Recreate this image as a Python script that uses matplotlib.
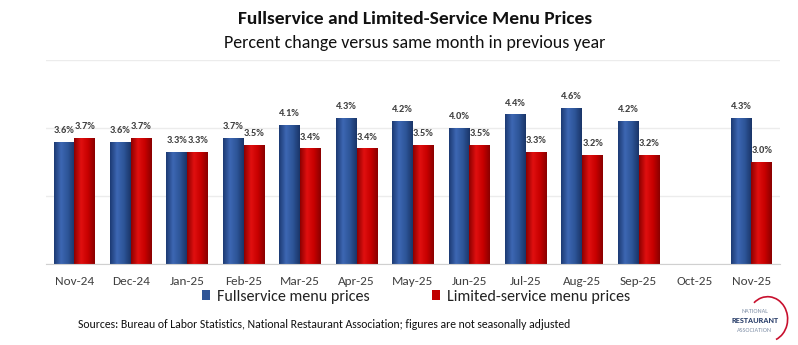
import numpy as np
import matplotlib
matplotlib.use('Agg')
import matplotlib.pyplot as plt
from matplotlib import font_manager
from matplotlib.patches import Arc
from matplotlib.colors import LinearSegmentedColormap

months = ['Nov-24', 'Dec-24', 'Jan-25', 'Feb-25', 'Mar-25', 'Apr-25', 'May-25',
          'Jun-25', 'Jul-25', 'Aug-25', 'Sep-25', 'Oct-25', 'Nov-25']
fullservice = [3.6, 3.6, 3.3, 3.7, 4.1, 4.3, 4.2, 4.0, 4.4, 4.6, 4.2, np.nan, 4.3]
limited = [3.7, 3.7, 3.3, 3.5, 3.4, 3.4, 3.5, 3.5, 3.3, 3.2, 3.2, np.nan, 3.0]

# Calibri-like font if one is there
available = set(f.name for f in font_manager.fontManager.ttflist)
font = 'DejaVu Sans'
for name in ['Carlito', 'Open Sans Condensed', 'Roboto Condensed', 'PT Sans Narrow',
             'Liberation Sans Narrow', 'Archivo Narrow', 'Encode Sans Condensed', 'Asap Condensed']:
    if name in available:
        font = name
        break
plt.rcParams['font.family'] = [font, 'DejaVu Sans']

fig = plt.figure(figsize=(7.98, 3.45), dpi=100)
ax = fig.add_axes([0.058, 0.235, 0.919, 0.591])

x = np.arange(len(months))
w = 0.37

blue_cm = LinearSegmentedColormap.from_list('b', ['#1c3a73', '#3d67b3', '#2d5598', '#1a3568'])
red_cm = LinearSegmentedColormap.from_list('r', ['#8e0000', '#e01010', '#c80000', '#8a0000'])
grad = np.linspace(0, 1, 64).reshape(1, -1)


def shade(bars, cmap):
    for b in bars:
        h = b.get_height()
        if np.isnan(h):
            continue
        x0 = b.get_x()
        im = ax.imshow(grad, cmap=cmap, aspect='auto', zorder=3,
                       extent=[x0, x0 + b.get_width(), 0, h])
        im.set_clip_path(b)


b1 = ax.bar(x - w / 2, fullservice, w, color='#2f5597', zorder=2, label='Fullservice menu prices')
b2 = ax.bar(x + w / 2, limited, w, color='#c00000', zorder=2, label='Limited-service menu prices')
shade(b1, blue_cm)
shade(b2, red_cm)

for bars, vals in ((b1, fullservice), (b2, limited)):
    for b, v in zip(bars, vals):
        if np.isnan(v):
            continue
        ax.text(b.get_x() + b.get_width() / 2, v + 0.2, '%.1f%%' % v, ha='center', va='bottom',
                fontsize=7.5, fontweight='bold', color='#404040', zorder=5)

ax.set_xlim(-0.5, len(months) - 0.5)
ax.set_ylim(0, 6)
ax.set_yticks([0, 2, 4, 6])
ax.yaxis.grid(True, color='#ececec', linewidth=1)
ax.set_axisbelow(True)
ax.tick_params(axis='y', left=False, labelleft=False)
ax.tick_params(axis='x', length=0, pad=9, labelsize=9.5, labelcolor='#404040')
ax.set_xticks(x)
ax.set_xticklabels(months)
for s in ['top', 'right', 'left']:
    ax.spines[s].set_visible(False)
ax.spines['bottom'].set_color('#d0d0d0')
ax.spines['bottom'].set_zorder(6)

fig.text(0.52, 0.945, 'Fullservice and Limited-Service Menu Prices', ha='center', va='center',
         fontsize=14, fontweight='bold', color='#111111')
fig.text(0.52, 0.875, 'Percent change versus same month in previous year', ha='center', va='center',
         fontsize=13, color='#111111')

leg = fig.legend(handles=[b1, b2], loc='center', bbox_to_anchor=(0.521, 0.14), ncol=2, frameon=False,
                 fontsize=11.5, handlelength=0.55, handleheight=0.55, handletextpad=0.4, columnspacing=3.9)
for t in leg.get_texts():
    t.set_color('#222222')

fig.text(0.098, 0.058, 'Sources: Bureau of Labor Statistics, National Restaurant Association; figures are not seasonally adjusted',
         ha='left', va='center', fontsize=8.5, color='#111111')

# association logo
fig.text(0.946, 0.098, 'NATIONAL', ha='center', va='center', fontsize=4.5, color='#8090a8')
fig.text(0.946, 0.07, 'RESTAURANT', ha='center', va='center', fontsize=6, fontweight='bold', color='#2a3f6a')
fig.text(0.946, 0.043, 'ASSOCIATION', ha='center', va='center', fontsize=4.5, color='#8090a8')
fig.add_artist(Arc((0.962, 0.075), 0.05, 0.13, theta1=-80, theta2=110, color='#c8102e',
                   linewidth=1.2, transform=fig.transFigure))

fig.savefig('out.png', dpi=100)
